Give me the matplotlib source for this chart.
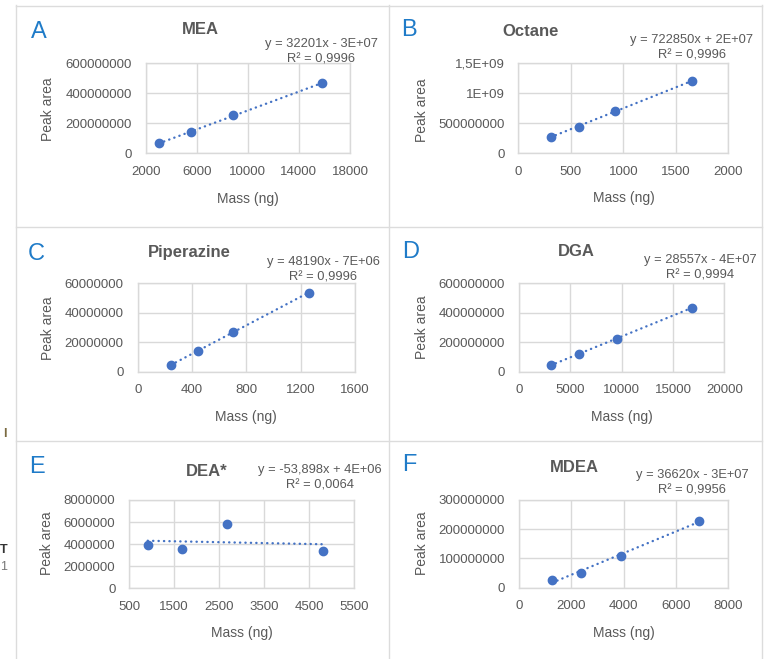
import numpy as np
import matplotlib
matplotlib.use("Agg")
import matplotlib.pyplot as plt
from matplotlib.lines import Line2D

plt.rcParams['font.family'] = ['Liberation Sans', 'DejaVu Sans']

W, H = 765, 659

# data
letters = ['A', 'B', 'C', 'D', 'E', 'F']
titles = ['MEA', 'Octane', 'Piperazine', 'DGA', 'DEA*', 'MDEA']
mass = [
    [3040, 5520, 8860, 15780],
    [308, 578, 920, 1651],
    [245, 444, 704, 1258],
    [3090, 5815, 9510, 16820],
    [909, 1673, 2667, 4803],
    [1273, 2368, 3884, 6876],
]
peak = [
    [6.7e7, 1.40e8, 2.55e8, 4.66e8],
    [2.77e8, 4.43e8, 7.00e8, 1.205e9],
    [4.5e6, 1.43e7, 2.69e7, 5.36e7],
    [4.5e7, 1.22e8, 2.20e8, 4.35e8],
    [3.93e6, 3.60e6, 5.80e6, 3.38e6],
    [2.6e7, 5.1e7, 1.08e8, 2.29e8],
]
equations = [
    'y = 32201x - 3E+07\nR² = 0,9996',
    'y = 722850x + 2E+07\nR² = 0,9996',
    'y = 48190x - 7E+06\nR² = 0,9996',
    'y = 28557x - 4E+07\nR² = 0,9994',
    'y = -53,898x + 4E+06\nR² = 0,0064',
    'y = 36620x - 3E+07\nR² = 0,9956',
]
xticks = [
    [2000, 6000, 10000, 14000, 18000],
    [0, 500, 1000, 1500, 2000],
    [0, 400, 800, 1200, 1600],
    [0, 5000, 10000, 15000, 20000],
    [500, 1500, 2500, 3500, 4500, 5500],
    [0, 2000, 4000, 6000, 8000],
]
yticks = [
    [0, 2e8, 4e8, 6e8],
    [0, 5e8, 1e9, 1.5e9],
    [0, 2e7, 4e7, 6e7],
    [0, 2e8, 4e8, 6e8],
    [0, 2e6, 4e6, 6e6, 8e6],
    [0, 1e8, 2e8, 3e8],
]
ylabels = [
    ['0', '200000000', '400000000', '600000000'],
    ['0', '500000000', '1E+09', '1,5E+09'],
    ['0', '20000000', '40000000', '60000000'],
    ['0', '200000000', '400000000', '600000000'],
    ['0', '2000000', '4000000', '6000000', '8000000'],
    ['0', '100000000', '200000000', '300000000'],
]

# layout in pixels (x0, y0, x1, y1), top origin
plot_box = [
    (145.7, 63.3, 350, 153.3),
    (518.3, 63.3, 728.3, 153.3),
    (137.7, 283.3, 355, 371.7),
    (519, 283.3, 724.3, 371.7),
    (129.3, 500, 354, 588.3),
    (519, 500, 728.3, 587.7),
]
title_pos = [(200, 29), (531, 31), (189, 253), (576, 252), (207, 472), (574, 467)]
letter_pos = [(31, 32), (401, 30), (28, 254), (402, 252), (29, 467), (402, 465)]
eq_pos = [(321, 52), (692, 48), (323, 270), (700, 268), (320, 478), (692, 483)]
xlab_pos = [(248, 199), (624, 198), (246, 417), (622, 417), (242, 633), (624, 633)]
ylab_pos = [(48, 109), (422, 110), (48, 328), (422, 327), (47, 543), (422, 543)]

grey = '#595959'
blue = '#4472C4'
gridc = '#d9d9d9'

fig = plt.figure(figsize=(W / 100, H / 100), dpi=100)
fig.patch.set_facecolor('white')


def fx(x):
    return x / W


def fy(y):
    return 1 - y / H


for i in range(6):
    x0, y0, x1, y1 = plot_box[i]
    ax = fig.add_axes([fx(x0), fy(y1), (x1 - x0) / W, (y1 - y0) / H])
    xs = np.array(mass[i])
    ys = np.array(peak[i])
    ax.plot(xs, ys, 'o', color=blue, ms=6, zorder=3)
    k, b = np.polyfit(xs, ys, 1)
    xl = np.array([xs.min(), xs.max()])
    ax.plot(xl, k * xl + b, color=blue, lw=1.7, ls=(0, (0.1, 2.2)),
            dash_capstyle='round', zorder=2)
    ax.set_xlim(xticks[i][0], xticks[i][-1])
    ax.set_ylim(yticks[i][0], yticks[i][-1])
    ax.set_xticks(xticks[i])
    ax.set_yticks(yticks[i], ylabels[i])
    ax.grid(True, color=gridc, lw=1)
    ax.set_axisbelow(True)
    for s in ax.spines.values():
        s.set_color(gridc)
        s.set_linewidth(1)
    ax.tick_params(length=0, labelsize=9.5, colors=grey)
    ax.tick_params(axis='y', pad=10)
    ax.tick_params(axis='x', pad=9)

    fig.text(fx(title_pos[i][0]), fy(title_pos[i][1]), titles[i], ha='center',
             va='center', fontsize=12, fontweight='bold', color=grey)
    fig.text(fx(letter_pos[i][0]), fy(letter_pos[i][1]), letters[i], ha='left',
             va='center', fontsize=17, color='#1F7BC8')
    fig.text(fx(eq_pos[i][0]), fy(eq_pos[i][1]), equations[i], ha='center',
             va='center', multialignment='center', fontsize=9.3, color=grey,
             linespacing=1.4)
    fig.text(fx(xlab_pos[i][0]), fy(xlab_pos[i][1]), 'Mass (ng)', ha='center',
             va='center', fontsize=10, color=grey)
    fig.text(fx(ylab_pos[i][0]), fy(ylab_pos[i][1]), 'Peak area', ha='center',
             va='center', rotation=90, fontsize=10, color=grey)

# panel frames
bc = '#dcdcdc'
for xv in [15.5, 389, 762]:
    fig.add_artist(Line2D([fx(xv), fx(xv)], [fy(5), fy(659)], color=bc, lw=1))
for yv in [5.5, 227, 441]:
    fig.add_artist(Line2D([fx(15.5), fx(762)], [fy(yv), fy(yv)], color=bc, lw=1))

# bits of cropped text at the left edge
fig.text(fx(3), fy(434), 'I', fontsize=9, fontweight='bold', color='#7a6a40', va='center')
fig.text(fx(0), fy(550), 'T', fontsize=9, fontweight='bold', color='#333333', va='center')
fig.text(fx(0), fy(567), '1', fontsize=9, color='#777777', va='center')

fig.savefig('out.png', dpi=100, facecolor='white')
